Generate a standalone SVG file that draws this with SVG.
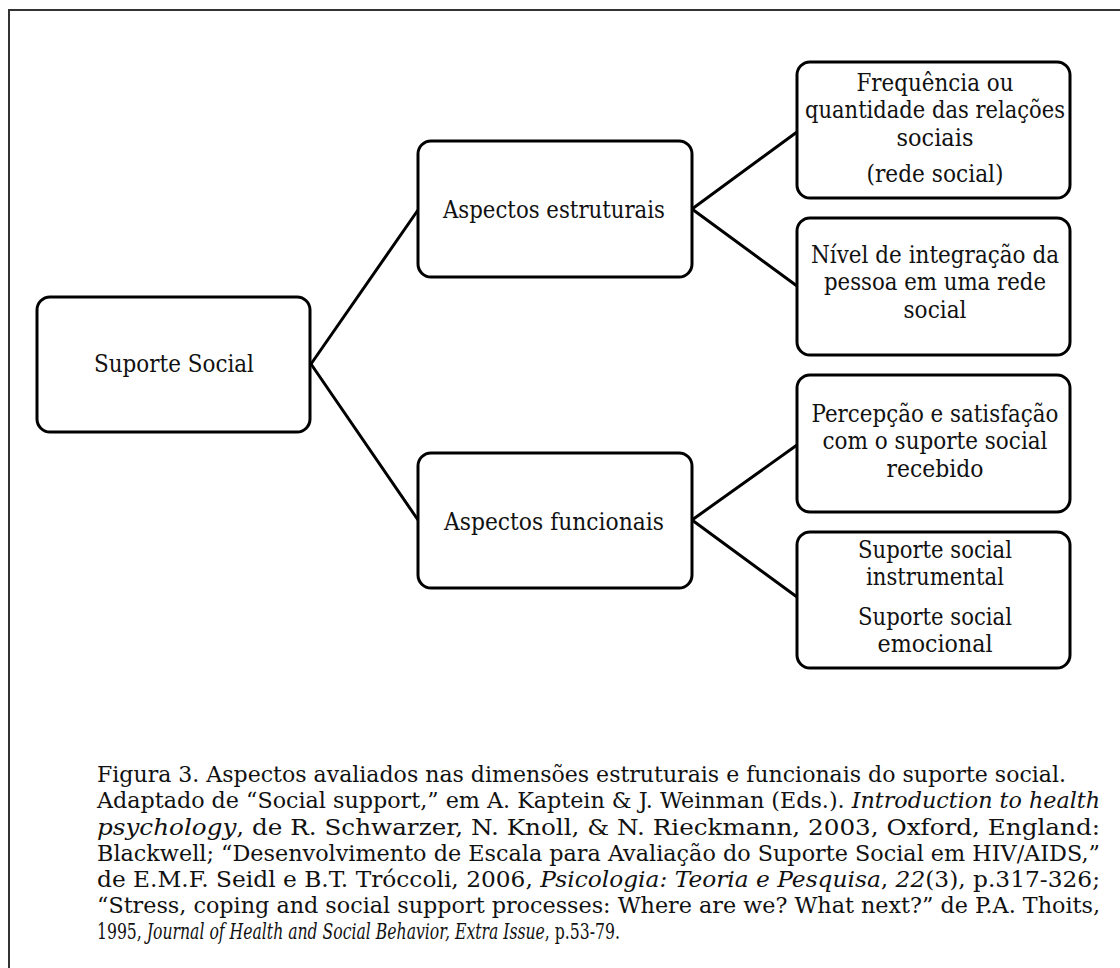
<svg xmlns="http://www.w3.org/2000/svg" width="1120" height="968" viewBox="0 0 1120 968">
<style>
.box{fill:#fff;stroke:#000;stroke-width:3}
.lbl{font-family:'DejaVu Serif','Liberation Serif',serif;font-size:25px;fill:#111;text-anchor:middle}
.cap{font-family:'DejaVu Serif','Liberation Serif',serif;font-size:22px;fill:#111}
.it{font-style:italic}
.conn line{stroke:#000;stroke-width:3;stroke-linecap:round}
</style>
<rect x="0" y="0" width="1120" height="968" fill="#fff"/>
<rect x="9" y="10" width="1200" height="1000" fill="none" stroke="#333" stroke-width="2"/>
<g class="conn" id="connectors">
<line x1="311" y1="364" x2="418" y2="210"/>
<line x1="311" y1="364" x2="418" y2="520"/>
<line x1="692" y1="209" x2="797" y2="132"/>
<line x1="692" y1="209" x2="797" y2="286"/>
<line x1="692" y1="520" x2="797" y2="445"/>
<line x1="692" y1="520" x2="797" y2="597"/>
</g>
<g id="n-suporte">
<rect class="box" x="37" y="297" width="273" height="135" rx="13"/>
<text class="lbl" x="174" y="372" textLength="160" lengthAdjust="spacingAndGlyphs">Suporte Social</text>
</g>
<g id="n-estruturais">
<rect class="box" x="418" y="141" width="274" height="136" rx="13"/>
<text class="lbl" x="554" y="218" textLength="222" lengthAdjust="spacingAndGlyphs">Aspectos estruturais</text>
</g>
<g id="n-funcionais">
<rect class="box" x="418" y="453" width="274" height="135" rx="13"/>
<text class="lbl" x="554" y="530" textLength="220" lengthAdjust="spacingAndGlyphs">Aspectos funcionais</text>
</g>
<g id="n-frequencia">
<rect class="box" x="797" y="62" width="273" height="136" rx="13"/>
<text class="lbl" x="935" y="91" textLength="157" lengthAdjust="spacingAndGlyphs">Frequência ou</text>
<text class="lbl" x="935" y="118" textLength="260" lengthAdjust="spacingAndGlyphs">quantidade das relações</text>
<text class="lbl" x="935" y="146" textLength="77" lengthAdjust="spacingAndGlyphs">sociais</text>
<text class="lbl" x="935" y="182" textLength="137" lengthAdjust="spacingAndGlyphs">(rede social)</text>
</g>
<g id="n-integracao">
<rect class="box" x="797" y="218" width="273" height="137" rx="13"/>
<text class="lbl" x="935" y="263" textLength="248" lengthAdjust="spacingAndGlyphs">Nível de integração da</text>
<text class="lbl" x="935" y="290" textLength="222" lengthAdjust="spacingAndGlyphs">pessoa em uma rede</text>
<text class="lbl" x="935" y="318" textLength="63" lengthAdjust="spacingAndGlyphs">social</text>
</g>
<g id="n-percepcao">
<rect class="box" x="797" y="375" width="273" height="137" rx="13"/>
<text class="lbl" x="935" y="422" textLength="247" lengthAdjust="spacingAndGlyphs">Percepção e satisfação</text>
<text class="lbl" x="935" y="449" textLength="225" lengthAdjust="spacingAndGlyphs">com o suporte social</text>
<text class="lbl" x="935" y="477" textLength="97" lengthAdjust="spacingAndGlyphs">recebido</text>
</g>
<g id="n-instrumental">
<rect class="box" x="797" y="532" width="273" height="136" rx="13"/>
<text class="lbl" x="935" y="558" textLength="154" lengthAdjust="spacingAndGlyphs">Suporte social</text>
<text class="lbl" x="935" y="585" textLength="138" lengthAdjust="spacingAndGlyphs">instrumental</text>
<text class="lbl" x="935" y="625" textLength="154" lengthAdjust="spacingAndGlyphs">Suporte social</text>
<text class="lbl" x="935" y="652" textLength="115" lengthAdjust="spacingAndGlyphs">emocional</text>
</g>
<g id="caption">
<text class="cap" x="97" y="782" textLength="969" lengthAdjust="spacingAndGlyphs">Figura 3. Aspectos avaliados nas dimensões estruturais e funcionais do suporte social.</text>
<text class="cap" x="97" y="808" textLength="1003" lengthAdjust="spacingAndGlyphs">Adaptado de “Social support,” em A. Kaptein &amp; J. Weinman (Eds.). <tspan class="it">Introduction to health</tspan></text>
<text class="cap" x="97" y="835" textLength="1003" lengthAdjust="spacingAndGlyphs"><tspan class="it">psychology</tspan>, de R. Schwarzer, N. Knoll, &amp; N. Rieckmann, 2003, Oxford, England:</text>
<text class="cap" x="97" y="861" textLength="1003" lengthAdjust="spacingAndGlyphs">Blackwell; “Desenvolvimento de Escala para Avaliação do Suporte Social em HIV/AIDS,”</text>
<text class="cap" x="97" y="887" textLength="1003" lengthAdjust="spacingAndGlyphs">de E.M.F. Seidl e B.T. Tróccoli, 2006, <tspan class="it">Psicologia: Teoria e Pesquisa</tspan>, <tspan class="it">22</tspan>(3), p.317-326;</text>
<text class="cap" x="97" y="913" textLength="1003" lengthAdjust="spacingAndGlyphs">“Stress, coping and social support processes: Where are we? What next?” de P.A. Thoits,</text>
<text class="cap" transform="translate(97,939) scale(0.68,1)" x="0" y="0" textLength="769" lengthAdjust="spacingAndGlyphs">1995, <tspan class="it">Journal of Health and Social Behavior, Extra Issue</tspan>, p.53-79.</text>
</g>
</svg>
